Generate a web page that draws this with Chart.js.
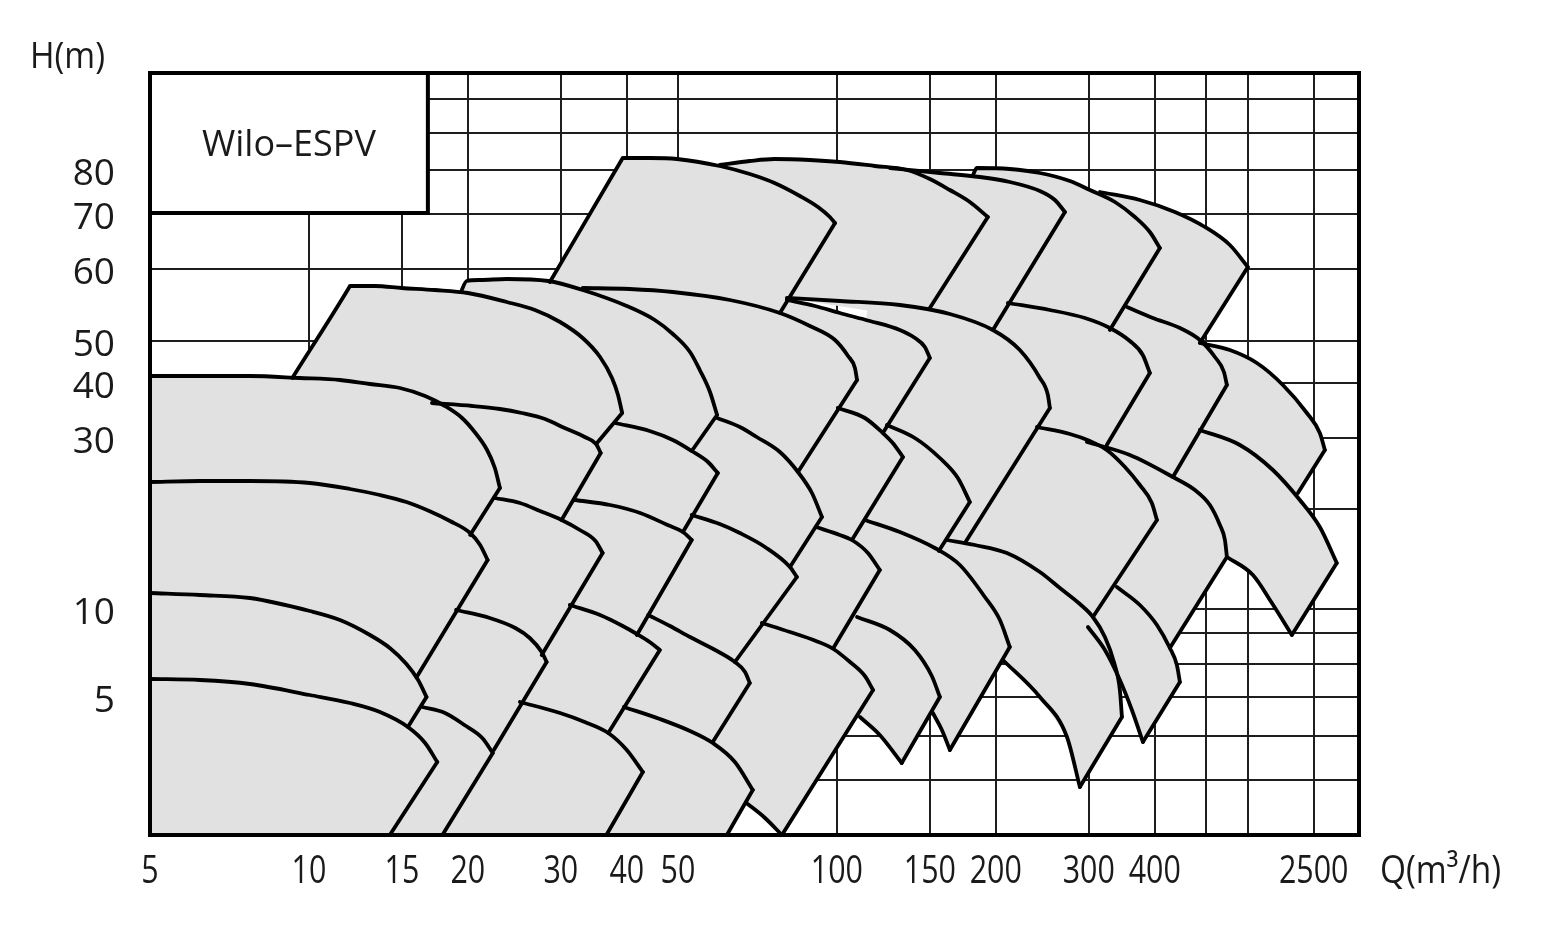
<!DOCTYPE html>
<html>
<head>
<meta charset="utf-8">
<title>Wilo-ESPV</title>
<script src="https://cdn.jsdelivr.net/npm/chart.js@4.4.1/dist/chart.umd.min.js"></script>
<style>
  html, body { margin: 0; background: #fff; }
  #wrap { width: 1546px; height: 936px; }
</style>
</head>
<body>
<div id="wrap"><canvas id="chart"></canvas></div>
<script>
// Q axis (m3/h), logarithmic. Grid lines and the printed tick labels.
const qGrid = [5, 10, 15, 20, 30, 40, 50, 100, 150, 200, 300, 400, 500, 600, 800];
const qTicks = [5, 10, 15, 20, 30, 40, 50, 100, 150, 200, 300, 400, 800];
const qTickText = ['5', '10', '15', '20', '30', '40', '50', '100', '150', '200', '300', '400', '2500'];

// H axis: the original is not drawn to scale, so heights are kept as
// positions on the axis (0 = bottom, 76.2 = top) and the ticks carry the H text.
const hGrid = [0, 5.5, 9.9, 13.8, 17.1, 20.2, 22.6, 32.6, 39.7, 45.2, 49.4, 56.6, 62.1, 66.5, 70.2, 73.6, 76.2];
const hTicks = [13.8, 22.6, 39.7, 45.2, 49.4, 56.6, 62.1, 66.5];
const hTickText = ['5', '10', '30', '40', '50', '60', '70', '80'];

// pump ranges: each band = curve from where it shows to its tip, then the end of the tip line
const g1 = [
  [[5,45.9],[6.22,45.9],[7.73,45.9],[9.61,45.7],[11.45,45.5],[13.05,45.1],[14.87,44.7],[16.6,43.9],[18.1,42.9],[19.5,41.7],[20.6,40.3],[21.75,38.5],[22.5,36.7],[23.0,34.7],[20.2,30.0]],
  [[5,35.3],[6.22,35.4],[7.73,35.4],[10.04,35.2],[11.96,34.6],[13.63,34.0],[15.3,33.3],[16.9,32.4],[18.5,31.4],[20.2,30.2],[21.1,29.0],[21.8,27.5],[16.0,15.8]],
  [[5,24.2],[6.22,24.0],[7.73,23.7],[10.04,22.4],[11.45,21.5],[13.05,20.0],[14.23,18.7],[15.3,17.1],[16.1,15.5],[16.7,13.8],[15.4,10.8]],
  [[5,15.6],[6.22,15.5],[7.73,15.1],[10.04,14.0],[11.96,13.2],[13.63,12.3],[15.4,10.8],[16.6,9.2],[17.5,7.3],[14.23,0]]
];
const g2 = [
  [[9.3,45.7],[11.9,54.7],[11.96,54.9],[13.34,54.9],[15.0,54.7],[17.3,54.5],[20.0,54.2],[23.7,53.3],[26.8,52.5],[29.9,51.3],[33.0,49.7],[35.6,47.8],[37.5,45.7],[38.5,44.0],[39.2,42.2],[35.0,39.1]],
  [[17.1,43.2],[20.4,42.9],[23.0,42.6],[25.3,42.2],[28.0,41.6],[30.5,40.7],[33.3,39.8],[35.0,39.1],[35.7,38.2],[30.1,31.5]],
  [[22.5,33.7],[25.1,33.2],[27.4,32.4],[30.1,31.5],[32.6,30.5],[34.9,29.4],[36.0,28.2],[27.6,18.0]],
  [[19.0,22.5],[22.0,21.7],[24.6,20.7],[26.2,19.7],[27.6,18.3],[28.2,17.3],[22.4,8.5]],
  [[16.4,12.8],[18.1,12.2],[19.7,11.0],[21.3,9.7],[22.3,8.2],[17.9,0]]
];
const g3 = [
  [[19.4,54.3],[19.9,55.4],[21.1,55.5],[23.7,55.6],[28.4,55.4],[33.0,54.5],[40.0,52.9],[45.2,51.5],[48.9,50.1],[52.7,48.3],[55.0,46.5],[57.5,44.3],[59.3,42.0],[53.1,38.4]],
  [[38.0,41.2],[44.2,40.4],[48.9,39.5],[53.1,38.4],[57.0,37.3],[59.5,36.2],[51.1,30.3]],
  [[31.9,33.5],[37.2,33.0],[42.4,32.2],[47.8,31.0],[51.1,30.3],[53.1,29.5],[41.8,20.0]],
  [[31.2,23.0],[35.6,22.0],[39.3,20.9],[41.8,20.1],[44.2,19.3],[46.2,18.5],[36.9,10.2]],
  [[25.1,13.3],[29.9,12.2],[33.3,11.3],[36.9,10.2],[40.0,8.5],[42.9,6.3],[36.6,0]]
];
const g4 = [
  [[28.6,55.3],[39.1,67.5],[39.3,67.7],[44.2,67.7],[49.8,67.6],[60.0,66.9],[68.4,66.1],[76.2,65.2],[85.1,63.9],[92.1,62.8],[97.0,61.8],[99.2,61.2],[78.0,52.2]],
  [[33.0,54.7],[40.5,54.6],[48.9,54.3],[62.7,53.5],[78.0,52.2],[88.9,50.9],[99.2,49.5],[105.0,47.9],[108.2,46.7],[109.2,45.5],[84.4,36.3]],
  [[59.3,41.7],[65.5,40.8],[70.5,39.8],[78.0,38.3],[84.4,36.3],[89.7,34.2],[93.7,31.8],[81.5,26.8]],
  [[53.1,32.0],[60.0,31.1],[65.5,30.2],[73.1,28.8],[81.5,26.8],[84.0,25.8],[64.1,17.3]],
  [[43.9,22.0],[48.3,20.9],[52.7,19.8],[58.8,18.5],[64.1,17.3],[67.0,16.3],[68.4,15.2],[58.2,9.3]],
  [[39.5,12.8],[46.2,11.6],[52.7,10.4],[58.2,9.2],[64.1,7.3],[69.3,4.5],[61.9,0]]
];
const g5 = [
  [[60.0,67.0],[68.4,67.4],[76.2,67.6],[88.9,67.5],[101.3,67.3],[118,66.9],[135.7,66.5],[150,65.6],[163.7,64.5],[178.6,63.3],[193.2,61.8],[150,52.7]],
  [[80.4,53.5],[90.9,52.9],[101.3,52.2],[115.5,51.4],[131.6,50.5],[140.6,49.7],[146.8,48.8],[150,47.7],[122.2,40.2]],
  [[100.4,42.7],[113,41.7],[122.2,40.2],[127.6,39.2],[133.4,37.8],[106.8,29.5]],
  [[91.3,30.8],[101.3,30.0],[106.8,29.5],[114.5,28.2],[120.6,26.5],[98.5,18.7]],
  [[72.1,21.2],[81.5,20.3],[91.3,19.4],[98.5,18.6],[105.9,17.3],[113,15.9],[117.1,14.5],[78.7,0]]
];
const g6 = [
  [[124.4,41.0],[140.5,39.7],[156.7,37.7],[169.5,35.7],[178.6,33.3],[156.0,28.4]],
  [[109.2,21.8],[126.0,20.5],[140.5,18.5],[151.3,15.9],[156.7,13.8],[132.7,7.2]]
];
const g7 = [
  [[126.0,66.7],[156.7,66.2],[186.6,65.8],[212.6,65.3],[242.4,64.4],[258.8,63.5],[270.4,62.3],[197.5,50.5]],
  [[80.4,53.7],[101.3,53.4],[131.6,53.0],[163.7,52.1],[197.5,50.5],[222.1,48.5],[242.4,45.7],[251,44.0],[253.2,42.7],[174.8,29.2]],
  [[113.0,31.5],[131.6,30.3],[153.3,28.7],[171.0,27.0],[190.7,23.8],[203.6,21.5],[212.6,18.8],[163.7,8.5]]
];
const g8 = [
  [[181,66.0],[184.2,66.7],[212.6,66.6],[242.4,66.2],[276.3,65.4],[301.5,64.5],[336.3,63.3],[366.9,61.8],[391.6,60.3],[409.1,58.7],[328.9,50.5]],
  [[210.8,53.2],[253.2,52.5],[295,51.7],[328.9,50.7],[358.9,49.4],[379.7,48.0],[391.6,46.2],[324.5,39.0]],
  [[239.3,40.8],[276.3,40.1],[301.5,39.4],[324.5,38.5],[351.3,36.8],[374.9,35.0],[395,33.2],[403.9,31.5],[305.5,21.8]],
  [[161.6,29.5],[182.6,29.0],[209.9,28.2],[242.4,26.3],[264.5,24.7],[288.6,23.1],[305.5,21.8],[321.9,19.8],[334.8,17.3],[343.6,14.5],[346.7,11.8],[288.6,4.8]]
];
const g9 = [
  [[314.9,64.3],[374.9,63.5],[436.8,62.3],[497.9,60.8],[555.1,59.0],[600.5,56.8],[487.1,49.2]],
  [[354.3,52.8],[396.8,51.7],[446.4,50.7],[487.1,49.5],[520.1,47.8],[541,46.3],[548,45.0],[433,35.8]],
  [[297.6,39.3],[358.9,38.0],[433.0,35.8],[476.6,34.5],[508.8,33.0],[531.5,31.0],[543.3,29.5],[548.0,27.8],[427.3,18.7]],
  [[339.2,24.8],[374.9,23.0],[403.9,21.0],[427.3,18.7],[440.6,17.0],[446.4,15.3],[379.9,9.3]]
];
const g10 = [
  [[487.1,49.2],[555.1,48.5],[624.6,47.2],[699.6,45.0],[776.7,42.2],[821.9,40.2],[840.2,38.5],[746.9,34.2]],
  [[487.1,40.5],[579.9,39.0],[669.7,36.5],[753.3,33.5],[821.9,30.8],[885,27.2],[727.5,20.0]]
];

// lower limit curves that end in a V, from where they come into view
const g5Floor = [[67.4,3.2],[73.1,1.7],[78.7,0]];
const g6Floor = [[110.6,11.8],[120.6,10.0],[132.7,7.2]];
const g7Floor = [[152.0,12.2],[158.1,10.5],[163.7,8.5]];
const g8Floor = [[206.3,17.5],[242.4,13.8],[272.8,9.8],[288.6,4.8]];
const g9Floor = [[298.9,20.8],[321.9,18.5],[343.6,15.5],[362.1,12.5],[379.9,9.3]];
const g10Floor = [[548.0,27.8],[613.8,26.0],[666.8,23.2],[727.5,20.0]];

// points that close each shaded area behind its neighbours
const g1Back = [[5,0]];
const g2Back = [[5,0]];
const g3Back = [[5,0]];
const g4Back = [[5,0]];
const g5Back = [[73.1,1.7],[67.4,3.2],[55.0,7.5]];
const g6Back = [[120.6,10.0],[110.6,11.8],[97.0,17.5],[110.6,31.5]];
const g7Back = [[158.1,10.5],[152.0,12.2],[131.6,14.5],[105.9,23.5],[105.9,41.5]];
const g8Back = [[272.8,9.8],[242.4,13.8],[206.3,17.5],[167.3,23.5],[150,31.5],[163.7,53.5]];
const g9Back = [[362.1,12.5],[343.6,15.5],[321.9,18.5],[298.9,20.8],[276.3,27.5],[264.5,41.5],[288.6,58.5]];
const g10Back = [[666.8,23.2],[613.8,26.0],[548.0,27.8],[427.3,35.0],[456.2,43.5]];

const modelName = 'Wilo\u2013ESPV';
const boxQ = 16.8, boxH = 62.2;

const shade = '#e1e1e1';
const ink = '#000';
const gridColor = '#1e1e1e';

const families = [
  [g1, [], g1Back], [g2, [], g2Back], [g3, [], g3Back], [g4, [], g4Back],
  [g5, g5Floor, g5Back], [g6, g6Floor, g6Back], [g7, g7Floor, g7Back],
  [g8, g8Floor, g8Back], [g9, g9Floor, g9Back], [g10, g10Floor, g10Back]
];

const toXY = ([x, y]) => ({ x, y });
const curveStyle = { fill: false, borderColor: ink, borderWidth: 3.8, cubicInterpolationMode: 'monotone', order: 1 };
const edgeStyle = { fill: false, borderColor: ink, borderWidth: 3.8, order: 1 };
const datasets = [];
families.forEach(([bands, floor, back]) => {
  // one grey area per pump size, then its outlines on top
  const ring = bands.flat().concat(back);
  datasets.push({ data: ring.map(toXY), fill: 'shape', backgroundColor: shade,
    borderColor: 'rgba(0,0,0,0)', borderWidth: 0, order: 2 });
  bands.forEach(b => {
    datasets.push({ ...curveStyle, data: b.slice(0, -1).map(toXY) });
    datasets.push({ ...edgeStyle, data: b.slice(-2).map(toXY) });
  });
  if (floor.length) datasets.push({ ...curveStyle, data: floor.map(toXY) });
});

const decor = {
  id: 'decor',
  afterDraw(chart) {
    const { ctx, chartArea: a, scales: { x, y } } = chart;
    ctx.save();
    ctx.strokeStyle = ink;
    ctx.lineWidth = 4;
    ctx.strokeRect(a.left, a.top, a.right - a.left, a.bottom - a.top);

    // model name box in the top left corner
    const bx = x.getPixelForValue(boxQ), by = y.getPixelForValue(boxH);
    ctx.fillStyle = '#fff';
    ctx.fillRect(a.left, a.top, bx - a.left, by - a.top);
    ctx.strokeRect(a.left, a.top, bx - a.left, by - a.top);
    ctx.fillStyle = '#1a1a1a';
    ctx.font = '36px "Open Sans"';
    ctx.textAlign = 'center';
    ctx.textBaseline = 'middle';
    ctx.fillText(modelName, (a.left + bx) / 2, (a.top + by) / 2 + 3);

    // Q tick labels are set narrow in the original
    ctx.font = '38px "Open Sans"';
    qTicks.forEach((q, i) => {
      ctx.save();
      ctx.translate(x.getPixelForValue(q), a.bottom + 37);
      ctx.scale(0.8, 1);
      ctx.fillText(qTickText[i], 0, 0);
      ctx.restore();
    });

    ctx.textAlign = 'left';
    ctx.save();
    ctx.translate(a.right + 21, a.bottom + 37);
    ctx.scale(0.88, 1);
    ctx.fillText('Q(m\u00b3/h)', 0, 0);
    ctx.restore();

    ctx.save();
    ctx.translate(30, a.top - 16);
    ctx.scale(0.9, 1);
    ctx.font = '37px "Open Sans"';
    ctx.fillText('H(m)', 0, 0);
    ctx.restore();
    ctx.restore();
  }
};

new Chart(document.getElementById('chart'), {
  type: 'line',
  data: { datasets },
  plugins: [decor],
  options: {
    responsive: true,
    maintainAspectRatio: false,
    animation: false,
    layout: { padding: { top: 73, right: 187, left: 0, bottom: 0 } },
    plugins: { legend: { display: false }, tooltip: { enabled: false } },
    elements: {
      point: { radius: 0, hoverRadius: 0 },
      line: { tension: 0, borderJoinStyle: 'round', borderCapStyle: 'round' }
    },
    scales: {
      x: {
        type: 'logarithmic', min: 5, max: 975, bounds: 'data', z: 1,
        afterBuildTicks: s => { s.ticks = qGrid.map(value => ({ value })); },
        afterFit: s => { s.height = 101; },
        grid: { color: gridColor, lineWidth: 2, drawTicks: false },
        border: { display: false },
        ticks: { display: false }
      },
      y: {
        type: 'linear', min: 0, max: 76.2, bounds: 'data', z: 1,
        afterBuildTicks: s => { s.ticks = hGrid.map(value => ({ value })); },
        afterFit: s => { s.width = 150; },
        grid: { color: gridColor, lineWidth: 2, drawTicks: false },
        border: { display: false },
        ticks: {
          autoSkip: false, padding: 35, labelOffset: 4, color: '#1a1a1a',
          font: { family: 'Open Sans', size: 37 },
          callback: v => { const i = hTicks.indexOf(v); return i < 0 ? '' : hTickText[i]; }
        }
      }
    }
  }
});
</script>
</body>
</html>
